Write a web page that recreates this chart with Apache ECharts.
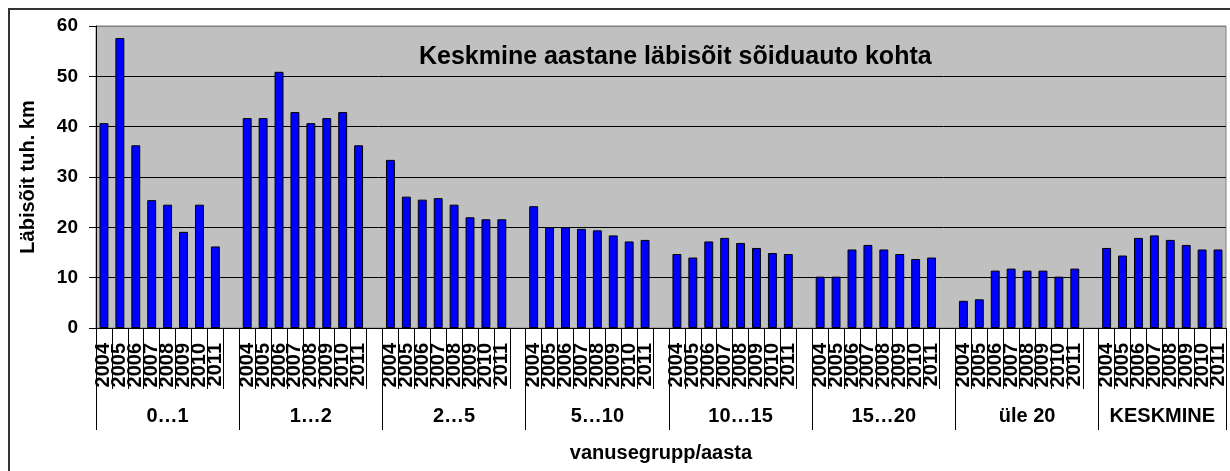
<!DOCTYPE html>
<html>
<head>
<meta charset="utf-8">
<script src="https://cdn.jsdelivr.net/npm/echarts@6/dist/echarts.min.js"></script>
<style>
html,body{margin:0;padding:0;background:#fff;}
#chart{width:1230px;height:471px;}
</style>
</head>
<body>
<div id="chart"></div>
<script>
const years = ['2004','2005','2006','2007','2008','2009','2010','2011'];
const groups = ['0…1','1…2','2…5','5…10','10…15','15…20','üle 20','KESKMINE'];
const v0_1   = [40.7,57.6,36.3,25.4,24.5,19.1,24.5,16.2];
const v1_2   = [41.7,41.7,50.9,42.9,40.7,41.7,42.9,36.3];
const v2_5   = [33.4,26.1,25.5,25.8,24.5,22.0,21.6,21.6];
const v5_10  = [24.2,20.0,20.0,19.7,19.4,18.4,17.2,17.5];
const v10_15 = [14.7,14.0,17.2,17.9,16.9,15.9,14.9,14.7];
const v15_20 = [10.2,10.2,15.6,16.5,15.6,14.7,13.7,14.0];
const vUle20 = [5.4,5.7,11.4,11.8,11.4,11.4,10.2,11.8];
const vKesk  = [15.9,14.4,17.9,18.4,17.5,16.5,15.6,15.6];
const groupValues = [v0_1,v1_2,v2_5,v5_10,v10_15,v15_20,vUle20,vKesk];
const yMin = 0, yMax = 60, yStep = 10;
const titleText = 'Keskmine aastane läbisõit sõiduauto kohta';
const yName = 'Läbisõit tuh. km';
const xName = 'vanusegrupp/aasta';

// Build flat categories with one empty slot after each group (except the last)
const cats = [], vals = [], bounds = [0], centers = [], centerName = {};
groupValues.forEach((arr, gi) => {
  const start = cats.length;
  arr.forEach((v, i) => { cats.push(years[i]); vals.push(v); });
  if (gi < groupValues.length - 1) { cats.push(''); vals.push('-'); }
  const end = cats.length;
  bounds.push(end);
  const c = (start + end) / 2;
  centers.push(c);
  centerName[c] = groups[gi];
});
const total = cats.length;

const FONT = '"Liberation Sans", Arial, sans-serif';
const chart = echarts.init(document.getElementById('chart'), null, {renderer: 'canvas'});
chart.setOption({
  backgroundColor: '#fff',
  animation: false,
  title: {
    text: titleText,
    left: 414, top: 40,
    textStyle: {fontFamily: FONT, fontWeight: 'bold', fontSize: 25, color: '#000'}
  },
  graphic: [{
    type: 'rect', silent: true, z: -1,
    shape: {x: 9, y: 9, width: 1400, height: 700},
    style: {fill: 'none', stroke: '#333', lineWidth: 2}
  }],
  grid: {
    left: 96, top: 26, right: 4, bottom: 143,
    show: true, backgroundColor: '#C0C0C0', borderColor: '#808080', borderWidth: 1
  },
  xAxis: [{
    type: 'category', data: cats, position: 'bottom',
    axisLine: {show: true, lineStyle: {color: '#000', width: 1}},
    axisTick: {show: true, interval: 0, length: 61, lineStyle: {color: '#000'}},
    axisLabel: {interval: 0, rotate: 90, margin: 15, fontFamily: FONT, fontWeight: 'bold', fontSize: 20, color: '#000'},
    splitLine: {show: false}
  }, {
    type: 'value', min: 0, max: total, position: 'bottom',
    name: xName, nameLocation: 'middle', nameGap: 115,
    nameTextStyle: {fontFamily: FONT, fontWeight: 'bold', fontSize: 20, color: '#000'},
    axisLine: {show: false},
    axisTick: {show: true, length: 102, customValues: bounds, lineStyle: {color: '#000'}},
    axisLabel: {
      customValues: centers, margin: 78,
      formatter: v => centerName[v] || '',
      fontFamily: FONT, fontWeight: 'bold', fontSize: 20, color: '#000'
    },
    splitLine: {show: false}
  }],
  yAxis: {
    type: 'value', min: yMin, max: yMax, interval: yStep,
    name: yName, nameLocation: 'middle', nameGap: 58, nameRotate: 90,
    nameTextStyle: {fontFamily: FONT, fontWeight: 'bold', fontSize: 20, color: '#000'},
    axisLine: {show: true, lineStyle: {color: '#000'}},
    axisTick: {show: true, length: 7, lineStyle: {color: '#000'}},
    axisLabel: {margin: 18, fontFamily: FONT, fontWeight: 'bold', fontSize: 19, color: '#000'},
    splitLine: {show: true, lineStyle: {color: ['#000','#000','#000','#000','#000','#000','#808080'], width: 1}}
  },
  series: [{
    type: 'bar', xAxisIndex: 0, data: vals, barWidth: '56%',
    itemStyle: {color: '#0000FF', borderColor: '#000', borderWidth: 1}
  }]
});
</script>
</body>
</html>
